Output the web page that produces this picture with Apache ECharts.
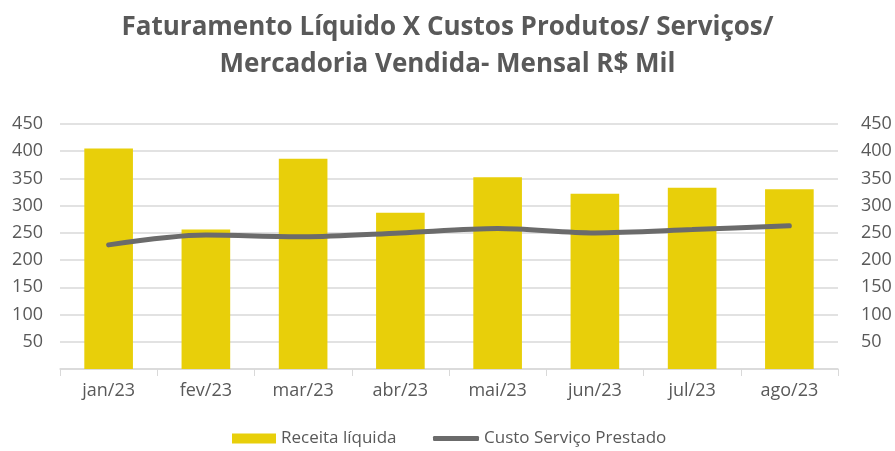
<!DOCTYPE html>
<html>
<head>
<meta charset="utf-8">
<script src="https://cdn.jsdelivr.net/npm/echarts@6/dist/echarts.min.js"></script>
<style>
  html, body { margin: 0; padding: 0; background: #fff; }
  #chart { width: 895px; height: 451px; }
</style>
</head>
<body>
<div id="chart"></div>
<script>
  // dados mensais (R$ mil)
  const meses = ['jan/23', 'fev/23', 'mar/23', 'abr/23', 'mai/23', 'jun/23', 'jul/23', 'ago/23']
  const receitaLiquida = [405, 256, 386, 287, 352, 322, 333, 330]
  const custoServico = [228, 246, 243, 250, 258, 250, 256, 263]
  const ticksY = [0, 50, 100, 150, 200, 250, 300, 350, 400, 450]

  const cinza = '#595959'
  const fonte = '"Open Sans", "Liberation Sans", sans-serif'

  let myChart = echarts.init(document.getElementById('chart'))

  const eixoY = (lado) => ({
    type: 'value',
    position: lado,
    min: ticksY[0],
    max: ticksY[ticksY.length - 1],
    interval: ticksY[1] - ticksY[0],
    axisLine: { show: false },
    axisTick: { show: false },
    axisLabel: {
      color: cinza,
      fontSize: 18,
      fontFamily: fonte,
      margin: lado === 'left' ? 17 : 23,
      formatter: (v) => v === 0 ? '' : v
    },
    splitLine: {
      show: lado === 'left',
      lineStyle: { color: '#d9d9d9', width: 1.5 }
    }
  })

  const estiloLegenda = { color: cinza, fontSize: 17, fontFamily: fonte }

  myChart.setOption({
    backgroundColor: '#fff',
    animation: false,
    title: {
      text: 'Faturamento Líquido X Custos Produtos/ Serviços/\nMercadoria Vendida- Mensal R$ Mil',
      left: 'center',
      top: 4,
      textStyle: {
        color: cinza,
        fontSize: 26,
        fontWeight: 'bold',
        fontFamily: fonte,
        lineHeight: 37
      }
    },
    grid: {
      left: 60,
      right: 57,
      top: 124,
      bottom: 82
    },
    legend: [
      {
        left: 232,
        top: 430,
        padding: 0,
        itemWidth: 44,
        itemHeight: 10,
        textStyle: estiloLegenda,
        data: [{ name: 'Receita líquida', icon: 'rect' }]
      },
      {
        left: 433,
        top: 430,
        padding: 0,
        itemWidth: 46,
        itemHeight: 5,
        textStyle: estiloLegenda,
        data: [{ name: 'Custo Serviço Prestado', icon: 'roundRect' }]
      }
    ],
    xAxis: {
      type: 'category',
      data: meses,
      axisLine: { lineStyle: { color: '#d9d9d9', width: 1.5 } },
      axisTick: { show: true, length: 7, lineStyle: { color: '#d9d9d9' } },
      axisLabel: { color: cinza, fontSize: 18, fontFamily: fonte, margin: 13 }
    },
    yAxis: [eixoY('left'), eixoY('right')],
    series: [
      {
        name: 'Receita líquida',
        type: 'bar',
        barWidth: '50%',
        itemStyle: { color: '#E8CF0A' },
        data: receitaLiquida
      },
      {
        name: 'Custo Serviço Prestado',
        type: 'line',
        yAxisIndex: 0,
        smooth: 0.3,
        symbol: 'none',
        lineStyle: { color: '#6b6b6b', width: 5, cap: 'round' },
        itemStyle: { color: '#6b6b6b' },
        data: custoServico
      }
    ]
  })
</script>
</body>
</html>
